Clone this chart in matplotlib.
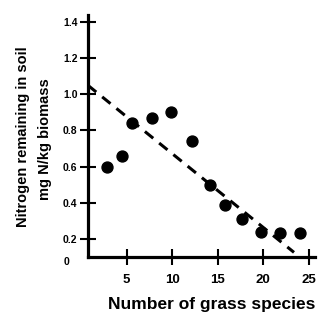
import matplotlib
matplotlib.use("Agg")
import matplotlib.pyplot as plt

# grass species richness vs soil nitrogen left over
species = [2.8, 4.5, 5.6, 7.8, 9.9, 12.2, 14.2, 15.8, 17.7, 19.8, 21.9, 24.1]
nitrogen = [0.60, 0.66, 0.84, 0.87, 0.90, 0.74, 0.50, 0.39, 0.31, 0.24, 0.23, 0.23]

# fitted trend (dashed)
fit_x = [0.75, 23.4]
fit_intercept = 1.08
fit_slope = -0.0408

x_ticks = [5, 10, 15, 20, 25]
y_ticks = [0.2, 0.4, 0.6, 0.8, 1.0, 1.2, 1.4]

plt.rcParams["font.family"] = ["Liberation Sans", "DejaVu Sans"]

fig = plt.figure(figsize=(3.23, 3.20), dpi=100)
ax = fig.add_axes([0.272, 0.197, 0.703, 0.757])

ax.scatter(species, nitrogen, s=62, color="black", zorder=3)
fit_y = [fit_intercept + fit_slope * x for x in fit_x]
ax.plot(fit_x, fit_y, color="black", lw=2.2, ls=(0, (3.5, 2.5)), zorder=2)

ax.set_xlim(0.74, 25.7)
ax.set_ylim(0.1, 1.44)
ax.set_xticks(x_ticks)
ax.set_yticks(y_ticks)
ax.set_xticklabels([str(t) for t in x_ticks], fontweight="bold", fontsize=9.5)
ax.set_yticklabels([f"{t:.1f}" for t in y_ticks], fontweight="bold", fontsize=7.5)
ax.tick_params(direction="inout", length=11, width=1.5)
ax.tick_params(axis="x", pad=7)
ax.tick_params(axis="y", pad=2)

for side in ("top", "right"):
    ax.spines[side].set_visible(False)
for side in ("left", "bottom"):
    ax.spines[side].set_linewidth(2.3)

# origin label sits below the broken axis start
fig.text(0.207, 0.181, "0", fontsize=7.5, fontweight="bold", ha="center", va="center")

fig.text(0.071, 0.572, "Nitrogen remaining in soil", rotation=90, fontsize=10.5,
         fontweight="bold", ha="center", va="center")
fig.text(0.139, 0.566, "mg N/kg biomass", rotation=90, fontsize=10.5,
         fontweight="bold", ha="center", va="center")
fig.text(0.656, 0.047, "Number of grass species", fontsize=12.5,
         fontweight="bold", ha="center", va="center")

fig.savefig("out.png", dpi=100)
